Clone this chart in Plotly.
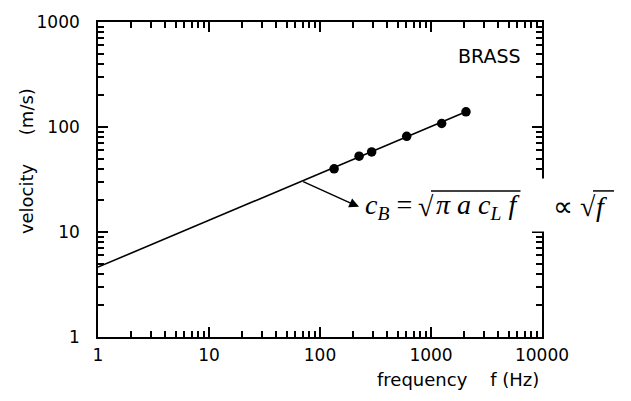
import plotly.graph_objects as go
import math

# Data
freq_pts = [134, 225, 292, 604, 1248, 2066]          # Hz
vel_pts = [40.0, 52.7, 57.9, 81.5, 108, 139.6]        # m/s

line_f = [1, 2066]
line_v = [4.63, 139.6]

x_tickvals = [1, 10, 100, 1000, 10000]
x_ticktext = ["1", "10", "100", "1000", "10000"]
y_tickvals = [1, 10, 100, 1000]
y_ticktext = ["1", "10", "100", "1000"]
x_minor = [m * 10 ** d for d in range(4) for m in range(2, 10)]
y_minor = [m * 10 ** d for d in range(3) for m in range(2, 10)]

fig = go.Figure()
fig.add_trace(go.Scatter(x=line_f, y=line_v, mode="lines",
                         line=dict(color="black", width=1.6), showlegend=False))
fig.add_trace(go.Scatter(x=freq_pts, y=vel_pts, mode="markers",
                         marker=dict(color="black", size=9.5), showlegend=False))
# invisible trace that carries the minor-tick overlay axes
fig.add_trace(go.Scatter(x=line_f, y=line_v, mode="lines", xaxis="x2", yaxis="y2",
                         line=dict(color="rgba(0,0,0,0)", width=0), hoverinfo="skip",
                         showlegend=False))

axis_common = dict(
    type="log", showgrid=False, zeroline=False, showline=True,
    linecolor="black", linewidth=1.6, mirror="ticks",
    ticks="inside", ticklen=10, tickwidth=2, tickcolor="black",
    tickfont=dict(family="DejaVu Sans", size=17, color="black"),
)
minor_common = dict(
    type="log", showgrid=False, zeroline=False, showline=False,
    mirror="ticks", ticks="inside", ticklen=6, tickwidth=1.6, tickcolor="black",
    showticklabels=False,
)

fig.update_layout(
    xaxis=dict(range=[0, 4], tickvals=x_tickvals, ticktext=x_ticktext,
               ticklabelstandoff=2, **axis_common),
    yaxis=dict(range=[0, 3], tickvals=y_tickvals, ticktext=y_ticktext,
               ticklabelstandoff=13, **axis_common),
    xaxis2=dict(range=[0, 4], tickvals=x_minor, overlaying="x", anchor="y2", side="bottom",
                **minor_common),
    yaxis2=dict(range=[0, 3], tickvals=y_minor, overlaying="y", anchor="x2", side="left",
                **minor_common),
)

def px(xp):
    return (xp - 98) / 444

def py(yp):
    return (337 - yp) / 317

serif = dict(family="Liberation Serif", size=28, color="black")

annotations = [
    # white block that interrupts the right axis behind the formula
    dict(text="", x=px(520), y=py(204), xref="paper", yref="paper",
         xanchor="left", yanchor="middle", showarrow=False, bgcolor="white",
         width=50, height=50),
    dict(text="BRASS", x=px(523), y=py(54), xref="paper", yref="paper",
         xanchor="right", yanchor="middle", showarrow=False,
         font=dict(family="DejaVu Sans", size=19, color="black")),
    dict(text="frequency&nbsp;&nbsp;&nbsp;&nbsp;f (Hz)", x=px(541), y=py(380), xref="paper", yref="paper",
         xanchor="right", yanchor="middle", showarrow=False,
         font=dict(family="DejaVu Sans", size=18, color="black")),
    dict(text="velocity&nbsp;&nbsp;&nbsp;&nbsp;&nbsp;(m/s)", x=px(26), y=py(160), xref="paper", yref="paper",
         xanchor="center", yanchor="middle", textangle=-90, showarrow=False,
         font=dict(family="DejaVu Sans", size=18, color="black")),
    # arrow from the line to the formula
    dict(text="", x=(359 - 98) / 111, y=(337 - 206) / 105.7,
         xref="x", yref="y",
         ax=math.log10(68.4), ay=math.log10(30.6), axref="x", ayref="y",
         showarrow=True, arrowhead=2, arrowsize=1.3, arrowwidth=1.5, arrowcolor="black"),
    # formula pieces
    dict(text="<i>c</i><sub><i>B</i></sub> =", x=px(363), y=py(206), xref="paper", yref="paper",
         xanchor="left", yanchor="middle", showarrow=False, font=serif),
    dict(text="√", x=px(416), y=py(206), xref="paper", yref="paper",
         xanchor="left", yanchor="middle", showarrow=False, font=serif),
    dict(text="<i>π a c</i><sub><i>L</i></sub> <i>f</i>", x=px(434), y=py(206), xref="paper", yref="paper",
         xanchor="left", yanchor="middle", showarrow=False, font=serif),
    dict(text="∝", x=px(563), y=py(206), xref="paper", yref="paper",
         xanchor="center", yanchor="middle", showarrow=False, font=serif),
    dict(text="√", x=px(578), y=py(206), xref="paper", yref="paper",
         xanchor="left", yanchor="middle", showarrow=False, font=serif),
    dict(text="<i>f</i>", x=px(594), y=py(206), xref="paper", yref="paper",
         xanchor="left", yanchor="middle", showarrow=False, font=serif),
]

shapes = [
    dict(type="line", xref="paper", yref="paper", x0=px(431), x1=px(541), y0=py(190), y1=py(190),
         line=dict(color="black", width=1.5), layer="above"),
    dict(type="line", xref="paper", yref="paper", x0=px(593), x1=px(614), y0=py(190), y1=py(190),
         line=dict(color="black", width=1.5), layer="above"),
]

fig.update_layout(
    width=631, height=401,
    margin=dict(l=98, r=89, t=20, b=64),
    plot_bgcolor="white", paper_bgcolor="white",
    annotations=annotations,
    shapes=shapes,
)

fig.write_html("out.html")
